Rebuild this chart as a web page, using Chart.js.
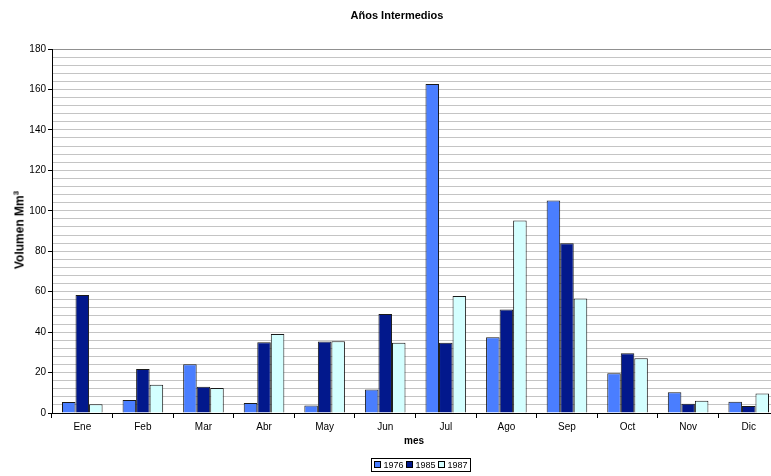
<!DOCTYPE html>
<html>
<head>
<meta charset="utf-8">
<script src="https://cdn.jsdelivr.net/npm/chart.js@4"></script>
<style>
  html, body { margin: 0; padding: 0; background: #fff; overflow: hidden; }
  #wrap { position: relative; width: 771px; height: 476px; overflow: hidden; font-family: "Liberation Sans", Arial, sans-serif; }
  #box { position: absolute; left: 0; top: 0; width: 790px; height: 476px; }
  .lbl { position: absolute; font-weight: bold; color: #000; white-space: nowrap; }
  #title { left: 397px; top: 9px; font-size: 11px; transform: translateX(-50%); }
  #xtitle { left: 414px; top: 435px; font-size: 10px; transform: translateX(-50%); }
  #ytitle { left: 19px; top: 230px; font-size: 12px; transform: translate(-50%, -50%) rotate(-90deg); }
  #ytitle sup { font-size: 8px; }
  #legend { position: absolute; left: 371px; top: 458px; width: 96px; height: 12px; border: 1px solid #000;
            font-size: 9px; line-height: 12px; white-space: nowrap; display: flex; align-items: center;
            justify-content: space-around; padding: 0 1px; }
  #legend > span { white-space: nowrap; }
  #legend span.sw { display: inline-block; width: 5px; height: 5px; border: 1px solid #000; margin-right: 2px; vertical-align: 0; }
</style>
</head>
<body>
<div id="wrap">
  <div id="box"><canvas id="c"></canvas></div>
  <div class="lbl" id="title">Años Intermedios</div>
  <div class="lbl" id="xtitle">mes</div>
  <div class="lbl" id="ytitle">Volumen Mm<sup>3</sup></div>
  <div id="legend"></div>
</div>
<script>
// ── Data ──
const months = ['Ene', 'Feb', 'Mar', 'Abr', 'May', 'Jun', 'Jul', 'Ago', 'Sep', 'Oct', 'Nov', 'Dic'];
const years = ['1976', '1985', '1987'];
const vol1976 = [5.4, 6.4, 24.1, 5.0, 3.7, 11.6, 162.7, 37.5, 105.1, 19.7, 10.2, 5.6];
const vol1985 = [58.3, 21.8, 13.0, 35.0, 35.3, 49.0, 34.8, 51.2, 83.9, 29.6, 4.6, 3.5];
const vol1987 = [4.3, 14.0, 12.4, 39.1, 35.5, 34.8, 57.9, 95.2, 56.6, 27.1, 6.1, 9.6];
const colors = ['#4A7EFF', '#02188C', '#D4FFFF'];

const series = [vol1976, vol1985, vol1987];

// legend (HTML, boxed like the original)
document.getElementById('legend').innerHTML = years.map((y, i) =>
  `<span><span class="sw" style="background:${colors[i]}"></span>${y}</span>`).join('');

new Chart(document.getElementById('c'), {
  type: 'bar',
  data: {
    labels: months,
    datasets: years.map((y, i) => ({
      label: y,
      data: series[i],
      backgroundColor: colors[i],
      borderColor: '#1a1a1a',
      borderWidth: 1,
      categoryPercentage: 0.67,
      barPercentage: 1,
    }))
  },
  options: {
    responsive: true,
    maintainAspectRatio: false,
    animation: false,
    layout: { padding: { top: 49, right: 11, bottom: 0, left: 0 } },
    plugins: { legend: { display: false }, tooltip: { enabled: false } },
    scales: {
      x: {
        afterFit: s => { s.height = 63; },
        grid: { drawOnChartArea: false, offset: true, tickLength: 5, color: '#000' },
        border: { color: '#000', width: 1 },
        ticks: { color: '#000', padding: 3, font: { size: 10, family: 'Liberation Sans' } }
      },
      y: {
        min: 0, max: 180,
        afterFit: s => { s.width = 52; },
        grid: {
          color: ctx => ctx.tick && ctx.tick.value === 180 ? '#909090' : '#c4c4c4',
          tickColor: ctx => ctx.tick && ctx.tick.value % 20 === 0 ? '#000' : 'rgba(0,0,0,0)',
          tickLength: 4
        },
        border: { color: '#000', width: 1 },
        ticks: {
          stepSize: 4,
          autoSkip: false,
          color: '#000',
          padding: 2,
          font: { size: 10, family: 'Liberation Sans' },
          callback: v => v % 20 === 0 ? v : ''
        }
      }
    }
  }
});
</script>
</body>
</html>
